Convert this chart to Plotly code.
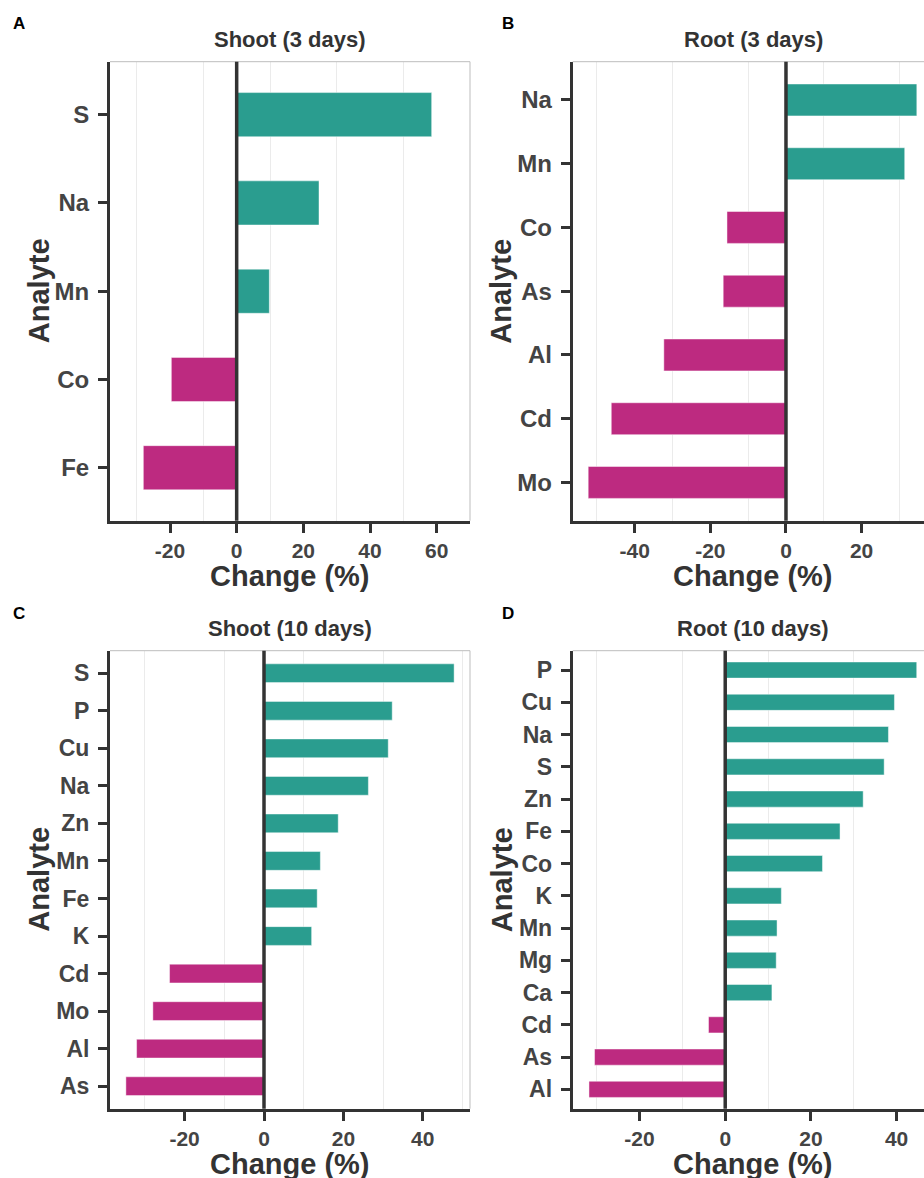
import plotly.graph_objects as go

# ---------------- data ----------------
shoot3_analytes = ["S", "Na", "Mn", "Co", "Fe"]
shoot3_values = [58.5, 24.7, 9.8, -19.6, -28.0]

root3_analytes = ["Na", "Mn", "Co", "As", "Al", "Cd", "Mo"]
root3_values = [34.6, 31.4, -15.6, -16.6, -32.3, -46.2, -52.3]

shoot10_analytes = ["S", "P", "Cu", "Na", "Zn", "Mn", "Fe", "K", "Cd", "Mo", "Al", "As"]
shoot10_values = [47.9, 32.3, 31.3, 26.3, 18.7, 14.2, 13.4, 12.0, -23.8, -28.0, -32.1, -34.8]

root10_analytes = ["P", "Cu", "Na", "S", "Zn", "Fe", "Co", "K", "Mn", "Mg", "Ca", "Cd", "As", "Al"]
root10_values = [44.7, 39.5, 38.1, 37.1, 32.2, 26.8, 22.7, 13.1, 12.1, 11.9, 10.9, -3.9, -30.5, -31.8]

shoot3_ticks = [-20, 0, 20, 40, 60]
root3_ticks = [-40, -20, 0, 20]
shoot10_ticks = [-20, 0, 20, 40]
root10_ticks = [-20, 0, 20, 40]

panel_titles = ["Shoot (3 days)", "Root (3 days)", "Shoot (10 days)", "Root (10 days)"]
panel_letters = ["A", "B", "C", "D"]
x_title = "Change (%)"
y_title = "Analyte"

# ---------------- style ----------------
W, H = 924, 1178
POS = "#2A9D8F"
NEG = "#BD2A80"
DARK = "#333333"
TICKC = "#444444"
GRID = "#EBEBEB"
FONT = "Liberation Sans"


def px(x):
    return x / W


def py(y):
    return 1 - y / H


# panel geometry in pixels: (left, right, top, bottom)
panels = [
    dict(an=shoot3_analytes, val=shoot3_values, ticks=shoot3_ticks, box=(110, 470, 61.7, 520.7),
         xr=[-38.0, 70.0], ysize=24, right_border=True),
    dict(an=root3_analytes, val=root3_values, ticks=root3_ticks, box=(572.7, 924, 61.7, 520.7),
         xr=[-56.4, 36.5], ysize=24, right_border=False),
    dict(an=shoot10_analytes, val=shoot10_values, ticks=shoot10_ticks, box=(110, 470, 650.7, 1108.7),
         xr=[-38.8, 51.9], ysize=23, right_border=True),
    dict(an=root10_analytes, val=root10_values, ticks=root10_ticks, box=(572.7, 924, 650.7, 1108.7),
         xr=[-35.6, 46.4], ysize=23, right_border=False),
]

fig = go.Figure()
shapes = []
annotations = []
layout = dict(
    width=W, height=H,
    margin=dict(l=0, r=0, t=0, b=0),
    paper_bgcolor="white", plot_bgcolor="white",
    showlegend=False,
    bargap=0.5,
)

for i, p in enumerate(panels):
    n = i + 1
    xa = "x" if n == 1 else f"x{n}"
    ya = "y" if n == 1 else f"y{n}"
    xkey = "xaxis" if n == 1 else f"xaxis{n}"
    ykey = "yaxis" if n == 1 else f"yaxis{n}"
    l, r, t, b = p["box"]
    colors = [POS if v >= 0 else NEG for v in p["val"]]
    fig.add_trace(go.Bar(
        x=p["val"], y=p["an"], orientation="h",
        marker=dict(color=colors, line=dict(color="rgba(255,255,255,0.45)", width=1)),
        width=0.5, xaxis=xa, yaxis=ya, hoverinfo="x+y",
    ))
    nc = len(p["an"])
    layout[xkey] = dict(
        domain=[px(l), min(1.0, px(r))], anchor=ya, range=p["xr"],
        tickmode="array", tickvals=p["ticks"], ticktext=[str(v) for v in p["ticks"]],
        showgrid=False, zeroline=False,
        minor=dict(tickmode="linear", tick0=10, dtick=20, showgrid=True, gridcolor=GRID, gridwidth=1, ticks=""),
        showline=True, linecolor=DARK, linewidth=3,
        ticks="outside", ticklen=9, tickwidth=3, tickcolor=DARK,
        tickfont=dict(family=FONT, size=21, color=TICKC, weight="bold"),
        fixedrange=True,
    )
    layout[ykey] = dict(
        domain=[py(b), py(t)], anchor=xa, type="category",
        categoryorder="array", categoryarray=list(reversed(p["an"])),
        range=[-0.6, nc - 0.4],
        showgrid=False, zeroline=False,
        showline=True, linecolor=DARK, linewidth=3,
        ticks="outside", ticklen=9, tickwidth=3, tickcolor=DARK,
        ticklabelstandoff=4,
        tickfont=dict(family=FONT, size=p["ysize"], color=TICKC, weight="bold"),
        fixedrange=True,
    )
    # top (and right) light border
    shapes.append(dict(type="line", xref=f"{xa} domain", yref=f"{ya} domain", x0=0, x1=1, y0=1, y1=1,
                       line=dict(color="#BDBDBD", width=1), layer="above"))
    if p["right_border"]:
        shapes.append(dict(type="line", xref=f"{xa} domain", yref=f"{ya} domain", x0=1, x1=1, y0=0, y1=1,
                           line=dict(color="#BDBDBD", width=1), layer="above"))
    # zero reference line
    shapes.append(dict(type="line", xref=xa, yref=f"{ya} domain", x0=0, x1=0, y0=0, y1=1,
                       line=dict(color=DARK, width=3.5), layer="above"))

    cx = (l + r) / 2 if p["right_border"] else 753
    # panel title
    annotations.append(dict(text=panel_titles[i], x=px(cx), y=py(t - 22.5), xref="paper", yref="paper",
                            showarrow=False, xanchor="center", yanchor="middle",
                            font=dict(family=FONT, size=22, color=DARK, weight="bold")))
    # panel letter
    lx = 19 if l < 300 else 508
    annotations.append(dict(text=panel_letters[i], x=px(lx), y=py(t - 38 if n <= 2 else t - 37), xref="paper",
                            yref="paper", showarrow=False, xanchor="center", yanchor="middle",
                            font=dict(family=FONT, size=17, color="black", weight="bold")))
    # x axis title
    annotations.append(dict(text=x_title, x=px(cx), y=py(b + 55), xref="paper", yref="paper",
                            showarrow=False, xanchor="center", yanchor="middle",
                            font=dict(family=FONT, size=29, color=DARK, weight="bold")))
    # y axis title
    ax = 39 if l < 300 else 501.5
    annotations.append(dict(text=y_title, x=px(ax), y=py((t + b) / 2), xref="paper", yref="paper",
                            showarrow=False, xanchor="center", yanchor="middle", textangle=-90,
                            font=dict(family=FONT, size=29, color=DARK, weight="bold")))

layout["shapes"] = shapes
layout["annotations"] = annotations
fig.update_layout(**layout)
fig.write_html("out.html")
